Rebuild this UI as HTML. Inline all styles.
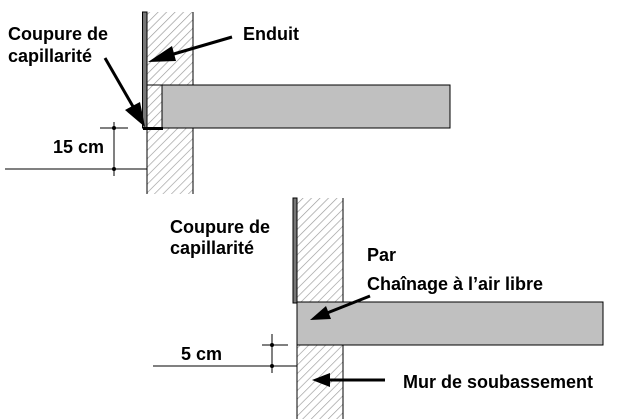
<!DOCTYPE html>
<html><head><meta charset="utf-8"><style>
html,body{margin:0;padding:0;background:#fff;width:624px;height:419px;overflow:hidden}
svg{display:block}
text{font-family:"Liberation Sans",Arial,sans-serif;font-weight:bold;font-size:18px;fill:#000}
</style></head><body>
<svg width="624" height="419" viewBox="0 0 624 419">
<defs>
<pattern id="h" width="6" height="6" patternUnits="userSpaceOnUse" patternTransform="rotate(45)">
<rect width="6" height="6" fill="#fff"/><line x1="0" y1="0" x2="0" y2="6" stroke="#999" stroke-width="1.3"/>
</pattern>
</defs>
<!-- Diagram 1 -->
<rect x="147" y="12" width="46" height="182" fill="url(#h)"/>
<line x1="147" y1="12" x2="147" y2="194" stroke="#000"/>
<line x1="193" y1="12" x2="193" y2="194" stroke="#000"/>
<rect x="142.5" y="12" width="4.5" height="116" fill="#777" stroke="#000" stroke-width="1"/>
<rect x="147" y="85" width="15" height="43" fill="url(#h)" stroke="#000"/>
<rect x="162" y="85" width="288" height="43" fill="#c0c0c0" stroke="#000"/>
<rect x="143" y="127" width="20" height="3" fill="#000"/>
<line x1="5" y1="169" x2="147" y2="169" stroke="#000"/>
<line x1="100" y1="128" x2="128" y2="128" stroke="#000"/>
<line x1="114" y1="122" x2="114" y2="176" stroke="#000"/>
<circle cx="114" cy="128" r="2" fill="#000"/><circle cx="114" cy="169" r="2" fill="#000"/>
<text x="8" y="40">Coupure de</text>
<text x="8" y="62">capillarité</text>
<text x="243" y="40">Enduit</text>
<text x="53" y="153">15 cm</text>
<line x1="232" y1="37" x2="160" y2="58" stroke="#000" stroke-width="3"/>
<path d="M148,62 L172,46 L176,61z" fill="#000"/>
<line x1="105" y1="58" x2="135" y2="110" stroke="#000" stroke-width="3"/>
<path d="M145,127 L125,110 L140,102z" fill="#000"/>
<!-- Diagram 2 -->
<rect x="297" y="198" width="46" height="221" fill="url(#h)"/>
<line x1="297" y1="198" x2="297" y2="419" stroke="#000"/>
<line x1="343" y1="198" x2="343" y2="419" stroke="#000"/>
<rect x="293" y="198" width="4" height="105" fill="#777" stroke="#000"/>
<rect x="297" y="302" width="306" height="43" fill="#c0c0c0" stroke="#000"/>
<line x1="153" y1="366" x2="297" y2="366" stroke="#000"/>
<line x1="262" y1="345" x2="288" y2="345" stroke="#000"/>
<line x1="272" y1="334" x2="272" y2="373" stroke="#000"/>
<circle cx="272" cy="345" r="2" fill="#000"/><circle cx="272" cy="366" r="2" fill="#000"/>
<text x="170" y="233">Coupure de</text>
<text x="170" y="254">capillarité</text>
<text x="367" y="261">Par</text>
<text x="367" y="290">Chaînage à l’air libre</text>
<text x="181" y="360">5 cm</text>
<text x="403" y="388">Mur de soubassement</text>
<line x1="370" y1="296" x2="322" y2="315" stroke="#000" stroke-width="3"/>
<path d="M310,320 L326,306 L331,319z" fill="#000"/>
<line x1="385" y1="380" x2="328" y2="380" stroke="#000" stroke-width="3"/>
<path d="M312,380 L330,373 L330,387z" fill="#000"/>
</svg>
</body></html>
